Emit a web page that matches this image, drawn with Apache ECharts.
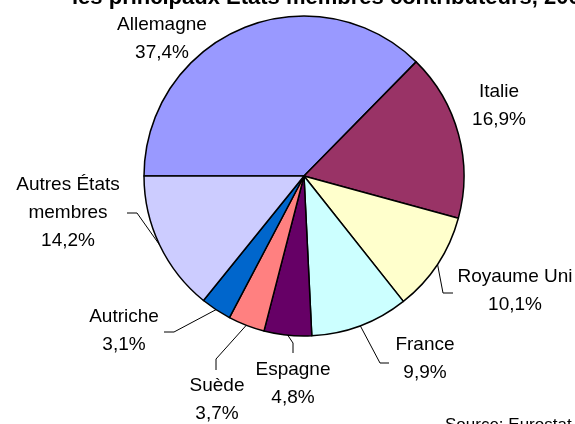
<!DOCTYPE html>
<html>
<head>
<meta charset="utf-8">
<script src="https://cdn.jsdelivr.net/npm/echarts@6/dist/echarts.min.js"></script>
<style>
html,body{margin:0;padding:0;background:#fff;}
#chart{width:575px;height:424px;}
</style>
</head>
<body>
<div id="chart"></div>
<script>
// Data
var categories = ['Allemagne', 'Italie', 'Royaume Uni', 'France', 'Espagne', 'Suède', 'Autriche', 'Autres États membres'];
var shares = [37.4, 16.9, 10.1, 9.9, 4.8, 3.7, 3.1, 14.2];
var colors = ['#9999FF', '#993366', '#FFFFCC', '#CCFFFF', '#660066', '#FF8080', '#0066CC', '#CCCCFF'];
var titleText = 'les principaux États membres contributeurs, 2006';
var sourceText = 'Source: Eurostat';

// Label layout (center x, middle y) and leader line bend/end points
var labelPos = [
  [162, 39], [499, 106], [515, 291], [425, 359], [293, 384], [217, 400], [124, 331], [68, 213]
];
var leader = [
  null, null,
  [[443, 293], [453, 293]],
  [[380, 363], [389, 363]],
  [[293, 343], [293, 353]],
  [[216, 359], [216, 370]],
  [[174, 332], [164, 332]],
  [[137, 213], [127, 213]]
];

var chart = echarts.init(document.getElementById('chart'), null, {renderer: 'canvas'});
var data = categories.map(function (n, i) {
  return {
    name: n,
    value: shares[i],
    itemStyle: {color: colors[i]},
    labelLine: {show: !!leader[i]}
  };
});

chart.setOption({
  animation: false,
  title: [{
    text: titleText,
    left: 72,
    top: -13,
    padding: 0,
    textStyle: {fontFamily: 'Liberation Sans', fontSize: 22, fontWeight: 'bold', color: '#000'}
  }, {
    text: sourceText,
    left: 445,
    top: 417,
    padding: 0,
    textStyle: {fontFamily: 'Liberation Sans', fontSize: 17, fontWeight: 'normal', color: '#000'}
  }],
  series: [{
    type: 'pie',
    center: [304, 176],
    radius: 160,
    startAngle: 180,
    clockwise: true,
    avoidLabelOverlap: false,
    data: data,
    itemStyle: {borderColor: '#000', borderWidth: 1.5},
    emphasis: {disabled: true, scale: false},
    label: {
      show: true,
      position: 'outside',
      fontFamily: 'Liberation Sans',
      fontSize: 19,
      lineHeight: 28,
      color: '#000',
      formatter: function (p) {
        var name = p.name.replace('Autres États ', 'Autres États\n');
        return name + '\n' + p.value.toFixed(1).replace('.', ',') + '%';
      }
    },
    labelLine: {show: true, length: 10, length2: 10, lineStyle: {color: '#000', width: 1}},
    labelLayout: function (params) {
      var i = params.dataIndex;
      var res = {x: labelPos[i][0], y: labelPos[i][1], align: 'center', verticalAlign: 'middle'};
      if (leader[i] && params.labelLinePoints) {
        var p0 = params.labelLinePoints[0];
        res.labelLinePoints = [[p0[0], p0[1]], leader[i][0], leader[i][1]];
      }
      return res;
    }
  }]
});
</script>
</body>
</html>
